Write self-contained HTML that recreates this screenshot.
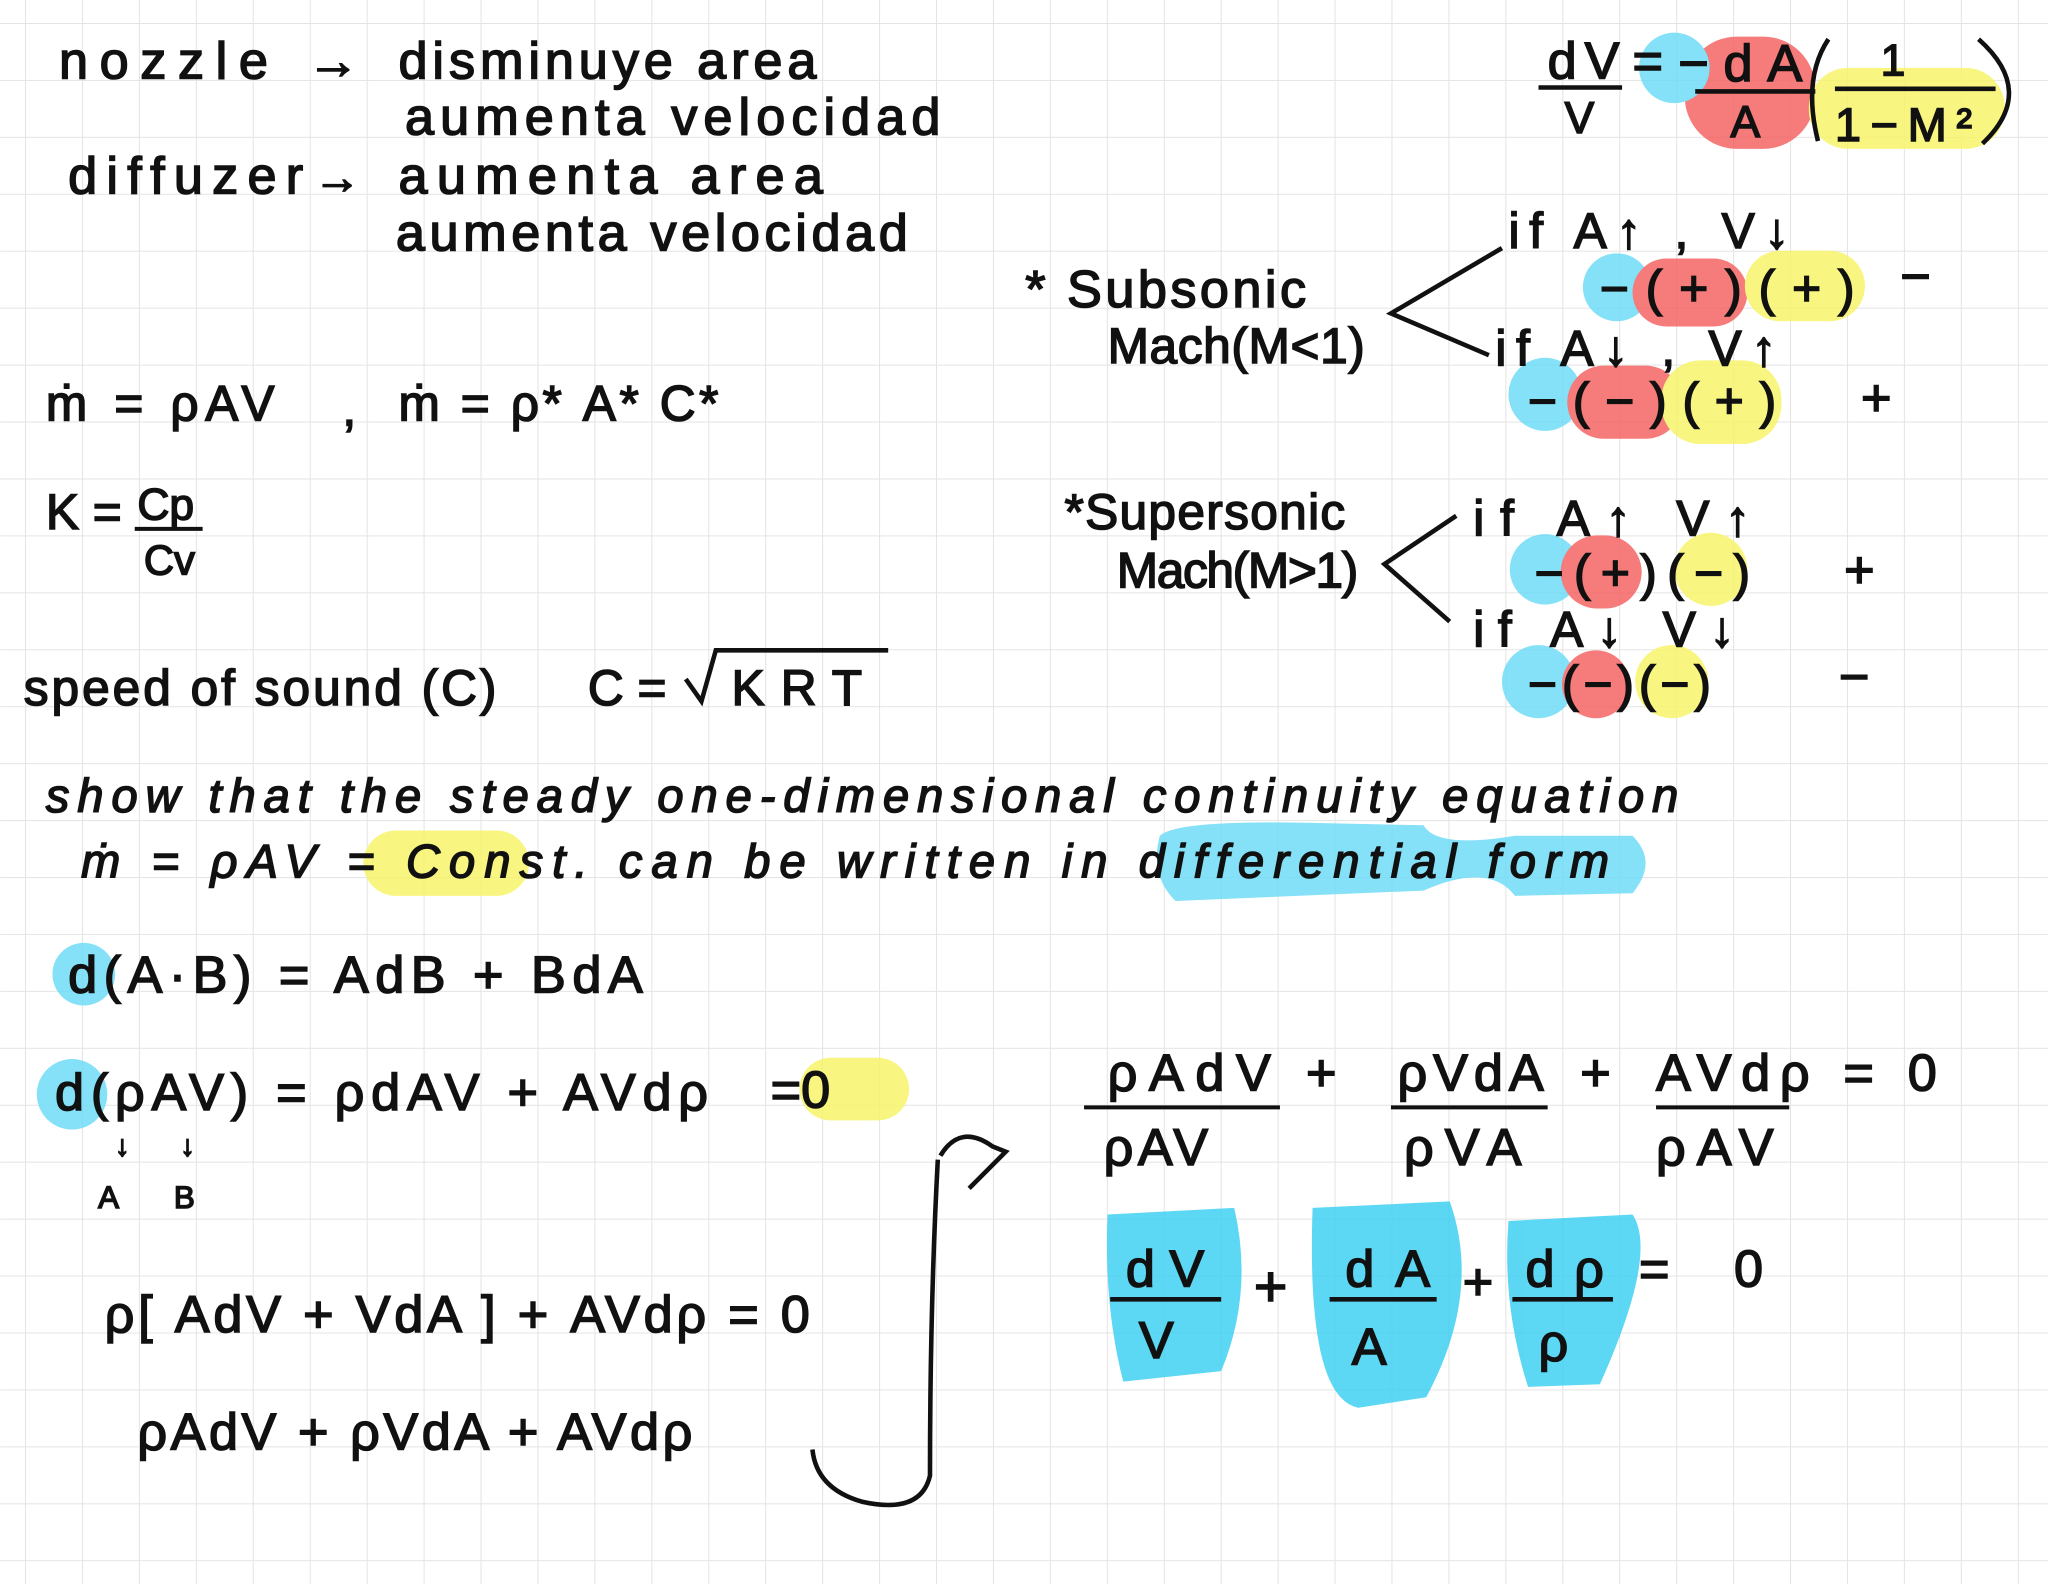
<!DOCTYPE html>
<html><head><meta charset="utf-8"><style>
html,body{margin:0;padding:0;background:#fff}
svg{display:block}
text{font-family:"Liberation Sans",sans-serif;fill:#111;stroke:#111;stroke-width:1.2}
</style></head><body>
<svg width="2048" height="1584" viewBox="0 0 1568 1213" xmlns="http://www.w3.org/2000/svg">
<defs>
<pattern id="g" x="19" y="17.6" width="43.6" height="43.6" patternUnits="userSpaceOnUse">
<path d="M0 0H43.6M0 0V43.6" stroke="#e4e4e4" stroke-width="1.6" fill="none"/>
</pattern>
</defs>
<rect width="1568" height="1213" fill="#fff"/>
<rect width="1568" height="1213" fill="url(#g)"/>

<!-- highlights -->
<g opacity="0.85">
<rect x="1290" y="28" width="100" height="86" rx="40" fill="#f56565"/>
<rect x="1385" y="52" width="150" height="62" rx="30" fill="#f7f46a"/>
<circle cx="1282" cy="52" r="27" fill="#6fdcf6"/>
<circle cx="1238" cy="220" r="26" fill="#6fdcf6"/>
<rect x="1250" y="198" width="88" height="52" rx="26" fill="#f56565"/>
<rect x="1336" y="192" width="92" height="54" rx="27" fill="#f7f46a"/>
<circle cx="1183" cy="302" r="28" fill="#6fdcf6"/>
<rect x="1200" y="280" width="88" height="56" rx="28" fill="#f56565"/>
<rect x="1272" y="276" width="92" height="64" rx="30" fill="#f7f46a"/>
<circle cx="1183" cy="436" r="27" fill="#6fdcf6"/>
<rect x="1195" y="410" width="62" height="56" rx="28" fill="#f56565"/>
<circle cx="1310" cy="436" r="28" fill="#f7f46a"/>
<circle cx="1178" cy="522" r="28" fill="#6fdcf6"/>
<rect x="1196" y="498" width="52" height="52" rx="26" fill="#f56565"/>
<circle cx="1280" cy="522" r="28" fill="#f7f46a"/>
<rect x="278" y="636" width="127" height="50" rx="25" fill="#f7f46a"/>
<path d="M888 640 Q900 628 1000 630 L1090 632 Q1100 650 1160 640 L1250 640 Q1270 660 1250 684 L1160 686 Q1140 660 1090 682 L900 690 Q880 670 888 640Z" fill="#6fdcf6"/>
<circle cx="64" cy="746" r="24" fill="#6fdcf6"/>
<circle cx="55" cy="838" r="27" fill="#6fdcf6"/>
<rect x="612" y="810" width="84" height="48" rx="24" fill="#f7f46a"/>
<path d="M848 930 L945 925 Q960 990 935 1050 L860 1058 Q845 1000 848 930Z" fill="#3fd0f2"/>
<path d="M1005 925 L1110 920 Q1135 990 1092 1070 L1040 1078 Q1000 1070 1005 925Z" fill="#3fd0f2"/>
<path d="M1155 935 L1250 930 Q1270 960 1225 1060 L1170 1062 Q1150 1000 1155 935Z" fill="#3fd0f2"/>
</g>

<!-- left text -->
<text x="45" y="60" font-size="40" textLength="160">nozzle</text>
<text x="235" y="60" font-size="40">→</text>
<text x="305" y="60" font-size="40" textLength="320">disminuye area</text>
<text x="310" y="103" font-size="40" textLength="410">aumenta velocidad</text>
<text x="52" y="148" font-size="40" textLength="180">diffuzer</text>
<text x="240" y="148" font-size="36">→</text>
<text x="305" y="148" font-size="40" textLength="325">aumenta area</text>
<text x="303" y="192" font-size="40" textLength="392">aumenta velocidad</text>

<text x="35" y="322" font-size="38" textLength="175">ṁ = ρAV</text>
<text x="262" y="326" font-size="38">,</text>
<text x="305" y="322" font-size="38" textLength="245">ṁ = ρ* A* C*</text>

<text x="35" y="405" font-size="38">K =</text>
<text x="105" y="398" font-size="34">Cp</text>
<line x1="103" y1="405" x2="155" y2="405" stroke="#111" stroke-width="3"/>
<text x="110" y="440" font-size="32">Cv</text>

<text x="18" y="540" font-size="38" textLength="362">speed of sound (C)</text>
<text x="450" y="540" font-size="38">C =</text>
<path d="M525 520 L537 537 L548 498 L680 498" stroke="#111" stroke-width="3.5" fill="none"/>
<text x="560" y="540" font-size="38" textLength="100">KRT</text>

<text x="35" y="622" font-size="36" font-style="italic" textLength="1250">show that the steady   one-dimensional   continuity equation</text>
<text x="62" y="672" font-size="36" font-style="italic" textLength="1170">ṁ = ρAV =  Const.    can   be   written   in   differential form</text>

<text x="52" y="760" font-size="40" textLength="440">d(A·B) = AdB + BdA</text>
<text x="42" y="850" font-size="40" textLength="500">d(ρAV) =  ρdAV + AVdρ</text>
<text x="590" y="848" font-size="40">=0</text>
<text x="88" y="885" font-size="22">↓</text><text x="138" y="885" font-size="22">↓</text>
<text x="75" y="925" font-size="24">A</text><text x="133" y="925" font-size="24">B</text>

<text x="80" y="1020" font-size="40" textLength="540">ρ[ AdV + VdA ] + AVdρ = 0</text>
<text x="105" y="1110" font-size="40" textLength="425">ρAdV + ρVdA + AVdρ</text>

<path d="M718 888 Q712 1000 712 1130 Q705 1160 660 1150 Q625 1140 622 1110" stroke="#111" stroke-width="3.5" fill="none"/>
<path d="M720 885 Q735 860 760 878 L770 882 L742 910" stroke="#111" stroke-width="3.5" fill="none"/>

<!-- right fractions -->
<text x="848" y="835" font-size="40" textLength="125">ρAdV</text>
<line x1="830" y1="848" x2="980" y2="848" stroke="#111" stroke-width="3"/>
<text x="845" y="892" font-size="40" textLength="80">ρAV</text>
<text x="1000" y="835" font-size="40">+</text>
<text x="1070" y="835" font-size="40" textLength="112">ρVdA</text>
<line x1="1065" y1="848" x2="1185" y2="848" stroke="#111" stroke-width="3"/>
<text x="1075" y="892" font-size="40" textLength="90">ρVA</text>
<text x="1210" y="835" font-size="40">+</text>
<text x="1268" y="835" font-size="40" textLength="215">AVdρ = 0</text>
<line x1="1268" y1="848" x2="1370" y2="848" stroke="#111" stroke-width="3"/>
<text x="1268" y="892" font-size="40" textLength="90">ρAV</text>

<text x="862" y="985" font-size="40" textLength="60">dV</text>
<line x1="850" y1="995" x2="935" y2="995" stroke="#111" stroke-width="3.5"/>
<text x="872" y="1040" font-size="40">V</text>
<text x="960" y="1000" font-size="44">+</text>
<text x="1030" y="985" font-size="40" textLength="65">dA</text>
<line x1="1018" y1="995" x2="1100" y2="995" stroke="#111" stroke-width="3.5"/>
<text x="1035" y="1045" font-size="40">A</text>
<text x="1120" y="995" font-size="40">+</text>
<text x="1168" y="985" font-size="40" textLength="60">dρ</text>
<line x1="1158" y1="995" x2="1235" y2="995" stroke="#111" stroke-width="3.5"/>
<text x="1178" y="1042" font-size="40">ρ</text>
<text x="1255" y="985" font-size="40" textLength="95">= 0</text>

<!-- top right -->
<text x="1185" y="60" font-size="40" textLength="55">dV</text>
<line x1="1178" y1="67" x2="1242" y2="67" stroke="#111" stroke-width="3.5"/>
<text x="1198" y="102" font-size="34">V</text>
<text x="1250" y="60" font-size="40">=</text>
<text x="1285" y="62" font-size="40" textLength="95">−dA</text>
<line x1="1298" y1="70" x2="1390" y2="70" stroke="#111" stroke-width="3.5"/>
<text x="1325" y="105" font-size="34">A</text>
<path d="M1400 30 Q1380 60 1392 108" stroke="#111" stroke-width="3.5" fill="none"/>
<text x="1440" y="58" font-size="34">1</text>
<line x1="1405" y1="68" x2="1528" y2="68" stroke="#111" stroke-width="3.5"/>
<text x="1405" y="108" font-size="36" textLength="105">1−M²</text>
<path d="M1515 30 Q1560 70 1518 110" stroke="#111" stroke-width="3.5" fill="none"/>

<text x="785" y="235" font-size="40" textLength="215">* Subsonic</text>
<text x="848" y="278" font-size="38" textLength="197">Mach(M&lt;1)</text>
<path d="M1150 190 L1065 240 L1140 272" stroke="#111" stroke-width="3.5" fill="none"/>
<text x="1155" y="190" font-size="38" textLength="215">if A↑ , V↓</text>
<text x="1225" y="234" font-size="38" textLength="195">−(+)(+)</text>
<text x="1455" y="225" font-size="40">−</text>
<text x="1145" y="280" font-size="38" textLength="215">if A↓ , V↑</text>
<text x="1170" y="320" font-size="38" textLength="190">−(−)(+)</text>
<text x="1425" y="318" font-size="40">+</text>

<text x="815" y="405" font-size="38" textLength="215">*Supersonic</text>
<text x="855" y="450" font-size="38" textLength="185">Mach(M&gt;1)</text>
<path d="M1115 395 L1060 432 L1110 476" stroke="#111" stroke-width="3.5" fill="none"/>
<text x="1128" y="410" font-size="38" textLength="212">if A↑ V↑</text>
<text x="1175" y="452" font-size="38" textLength="165">−(+)(−)</text>
<text x="1412" y="450" font-size="40">+</text>
<text x="1128" y="495" font-size="38" textLength="200">if A↓ V↓</text>
<text x="1170" y="537" font-size="38" textLength="140">−(−)(−)</text>
<text x="1408" y="532" font-size="40">−</text>
</svg>
</body></html>
